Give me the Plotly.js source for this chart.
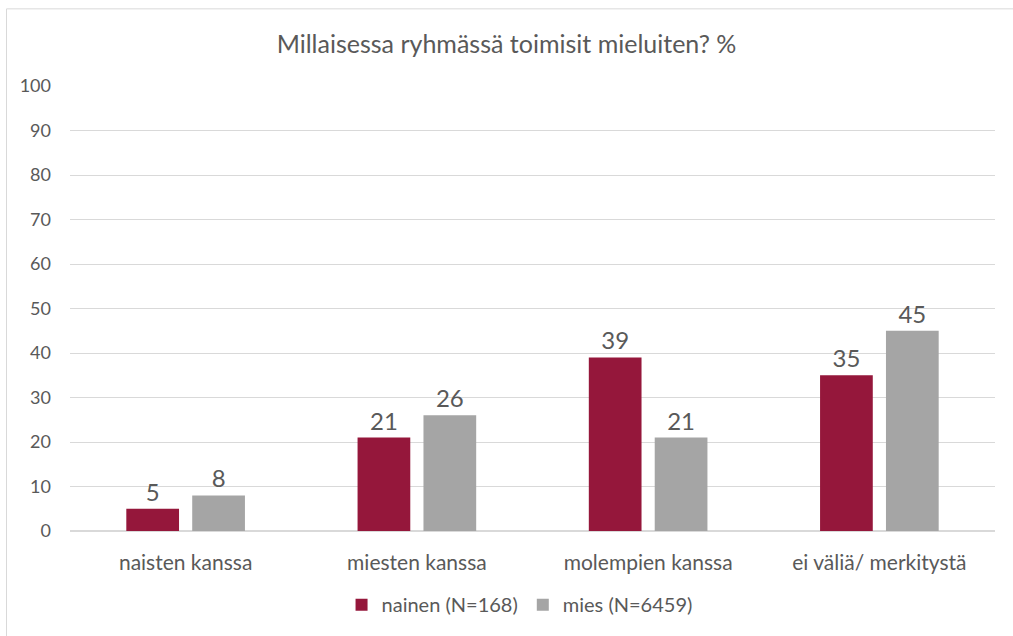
<!DOCTYPE html>
<html>
<head>
<meta charset="utf-8">
<script src="https://cdn.plot.ly/plotly-3.0.1.min.js"></script>
<style>
html,body{margin:0;padding:0;background:#fff;}
#chart{width:1013px;height:636px;}
</style>
</head>
<body>
<div id="chart"></div>
<script>
const categories = ["naisten kanssa", "miesten kanssa", "molempien kanssa", "ei väliä/ merkitystä"];
const nainen = [5, 21, 39, 35];
const mies = [8, 26, 21, 45];
const seriesNames = ["nainen (N=168)", "mies (N=6459)"];
const yTicks = [0, 10, 20, 30, 40, 50, 60, 70, 80, 90, 100];

const FONT = "Lato, 'Open Sans', sans-serif";
const txt = "#595959";

const traces = [
  {type: "bar", name: seriesNames[0], x: categories, y: nainen,
   marker: {color: "#95173B"}, text: nainen.map(String), textposition: "outside",
   textfont: {size: 24, color: txt, family: FONT}, cliponaxis: false, hoverinfo: "none"},
  {type: "bar", name: seriesNames[1], x: categories, y: mies,
   marker: {color: "#A5A5A5"}, text: mies.map(String), textposition: "outside",
   textfont: {size: 24, color: txt, family: FONT}, cliponaxis: false, hoverinfo: "none"}
];

const layout = {
  width: 1013, height: 636,
  margin: {l: 70, r: 18, t: 86, b: 103},
  paper_bgcolor: "#fff", plot_bgcolor: "#fff",
  font: {family: FONT, color: txt},
  title: {text: "Millaisessa ryhmässä toimisit mieluiten? %", x: 0.5, xanchor: "center",
          y: 1 - 44/636, yanchor: "middle", font: {size: 25, color: txt, family: FONT}},
  barmode: "group", bargap: 0.43, bargroupgap: 0.2,
  xaxis: {type: "category", showgrid: false, showline: false, zeroline: false,
          ticks: "", ticklabelstandoff: 17, tickfont: {size: 21, color: txt}, automargin: false},
  yaxis: {range: [0, 100], tickvals: yTicks, ticktext: yTicks.map(String),
          showgrid: true, gridcolor: "#D9D9D9", gridwidth: 1, zeroline: true,
          zerolinecolor: "#D9D9D9", zerolinewidth: 2, showline: false, ticks: "",
          ticklabelstandoff: 18, tickfont: {size: 18, color: txt}, automargin: false, fixedrange: true},
  legend: {orientation: "h", x: 0.486, xanchor: "center", y: -74/447, yanchor: "middle",
           font: {size: 20, color: txt}, traceorder: "normal", itemwidth: 30},
  shapes: [
    {type: "line", xref: "paper", yref: "paper", x0: (6.5-70)/925, x1: (6.5-70)/925,
     y0: (533-8.5)/447, y1: -1, line: {color: "#D9D9D9", width: 1}},
    {type: "line", xref: "paper", yref: "paper", x0: (6.5-70)/925, x1: 1.2,
     y0: (533-8.5)/447, y1: (533-8.5)/447, line: {color: "#D9D9D9", width: 1}}
  ],
  showlegend: true
};

Plotly.newPlot("chart", traces, layout, {displayModeBar: false, staticPlot: true});
</script>
</body>
</html>
